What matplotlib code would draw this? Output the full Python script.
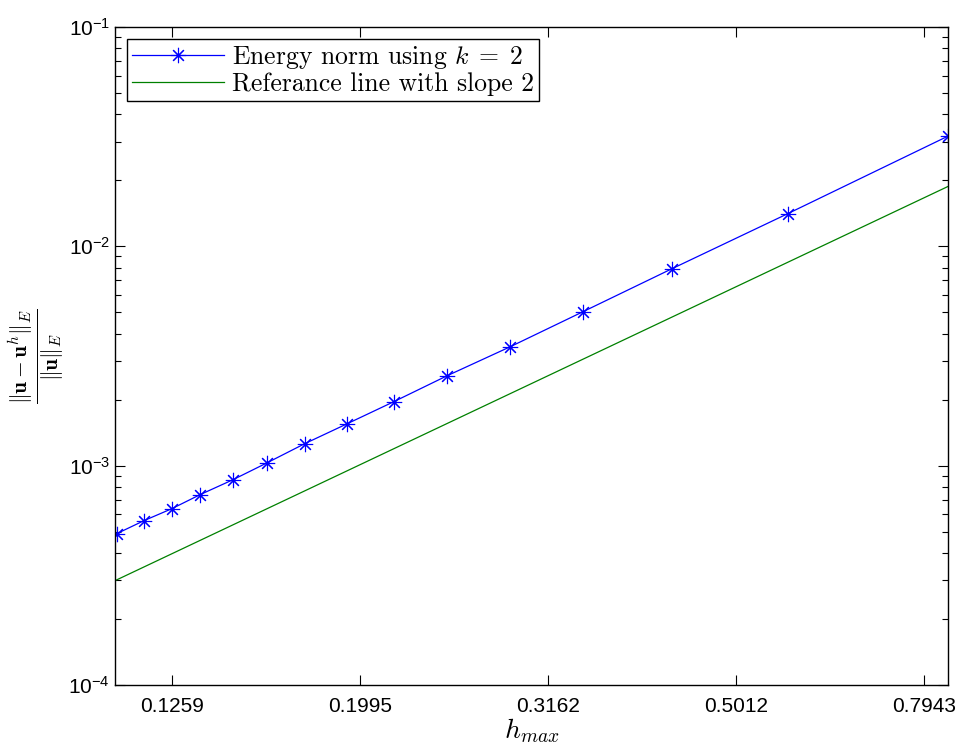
import matplotlib
matplotlib.use("Agg")
import matplotlib.pyplot as plt
from matplotlib.ticker import FixedLocator, NullFormatter, LogLocator

plt.rcParams['font.family'] = ['Liberation Sans', 'DejaVu Sans']
plt.rcParams['mathtext.fontset'] = 'cm'

# Data
h_max = [0.1100, 0.1175, 0.1259, 0.1349, 0.1462, 0.1589, 0.1743, 0.1932,
         0.2169, 0.2470, 0.2881, 0.3444, 0.4283, 0.5691, 0.8424]
err_energy = [4.90e-4, 5.61e-4, 6.37e-4, 7.38e-4, 8.63e-4, 1.03e-3, 1.26e-3,
              1.55e-3, 1.96e-3, 2.57e-3, 3.48e-3, 5.03e-3, 7.90e-3, 1.41e-2, 3.18e-2]
ref_h = [0.1095, 0.8424]
ref_err = [2.99e-4, 1.875e-2]

xticks = [0.1259, 0.1995, 0.3162, 0.5012, 0.7943]
xtick_labels = ['0.1259', '0.1995', '0.3162', '0.5012', '0.7943']
yticks = [1e-4, 1e-3, 1e-2, 1e-1]
ytick_labels = [r'$\mathregular{10^{-4}}$', r'$\mathregular{10^{-3}}$',
                r'$\mathregular{10^{-2}}$', r'$\mathregular{10^{-1}}$']

fig = plt.figure(figsize=(9.57, 7.51), dpi=100)
ax = fig.add_axes([115/957, 1 - 685/751, (948-115)/957, (685-27)/751])

ax.plot(h_max, err_energy, color='#0000ff', lw=0.9, marker=(8, 2, 0),
        markersize=11, markeredgewidth=0.8, label=r'Energy norm using $k\;=\;2$')
ax.plot(ref_h, ref_err, color='#008000', lw=0.9, label='Referance line with slope 2')

ax.set_xscale('log')
ax.set_yscale('log')
ax.set_xlim(0.1095, 0.8424)
ax.set_ylim(1e-4, 1e-1)

ax.xaxis.set_major_locator(FixedLocator(xticks))
ax.xaxis.set_minor_locator(FixedLocator([]))
ax.set_xticklabels(xtick_labels)
ax.xaxis.set_minor_formatter(NullFormatter())
ax.yaxis.set_major_locator(FixedLocator(yticks))
ax.set_yticklabels(ytick_labels)
ax.yaxis.set_minor_locator(LogLocator(base=10, subs=range(2, 10)))
ax.yaxis.set_minor_formatter(NullFormatter())

ax.tick_params(which='both', direction='in', top=True, right=True, labelsize=15, width=0.8)
ax.tick_params(which='major', length=7)
ax.tick_params(which='minor', length=4)
ax.tick_params(axis='x', pad=9)
for s in ax.spines.values():
    s.set_linewidth(1.0)

ax.set_xlabel(r'$h_{max}$', fontsize=20, labelpad=0)
ax.set_ylabel(r'$\frac{\|\mathbf{u}-\mathbf{u}^h\|_E}{\|\mathbf{u}\|_E}$', fontsize=22, labelpad=2)

leg = ax.legend(loc='upper left', prop={'family': 'cmr10', 'size': 18.5},
                fancybox=False, framealpha=1, edgecolor='black',
                borderpad=0.2, labelspacing=0.05, handlelength=3.6,
                handletextpad=0.3, borderaxespad=0.45)
leg.get_frame().set_linewidth(1.0)

fig.savefig('out.png', dpi=100)
